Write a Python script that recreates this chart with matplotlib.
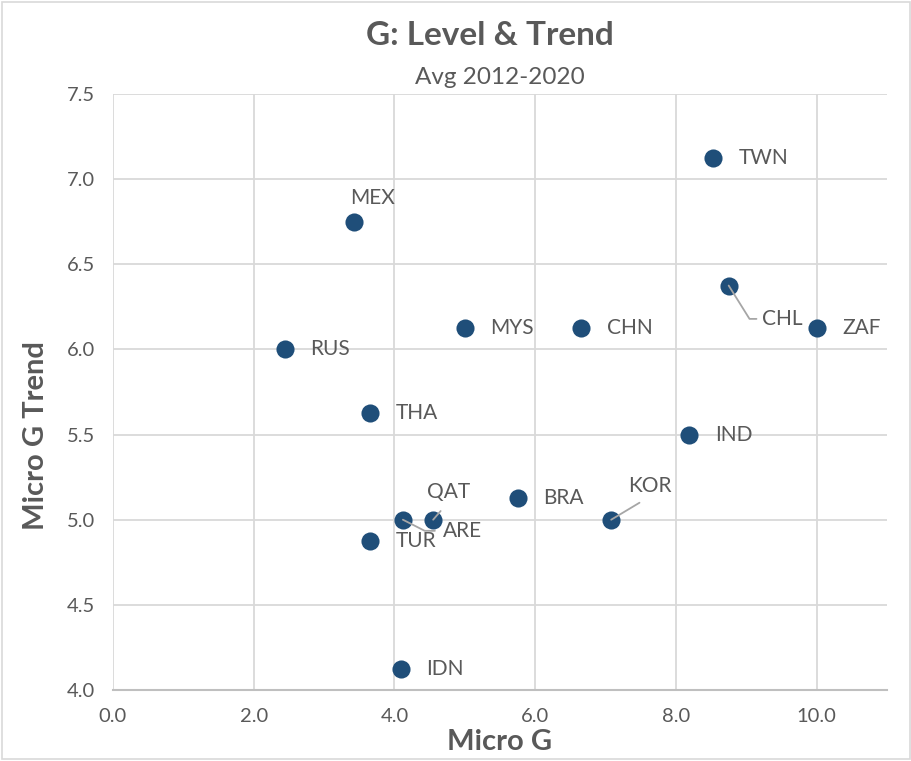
import matplotlib
matplotlib.use("Agg")
import matplotlib.pyplot as plt
from matplotlib.patches import Rectangle

plt.rcParams['font.family'] = ['Lato', 'DejaVu Sans']

# data
countries = ["TWN", "MEX", "CHL", "ZAF", "MYS", "CHN", "RUS", "THA",
             "IND", "BRA", "KOR", "QAT", "ARE", "TUR", "IDN"]
micro_g = [8.53, 3.43, 8.75, 10.0, 5.0, 6.65, 2.44, 3.65,
           8.19, 5.75, 7.08, 4.55, 4.12, 3.65, 4.09]
micro_g_trend = [7.125, 6.75, 6.375, 6.125, 6.125, 6.125, 6.0, 5.625,
                 5.5, 5.125, 5.0, 5.0, 5.0, 4.875, 4.125]

xticks = [0, 2, 4, 6, 8, 10]
yticks = [4.0, 4.5, 5.0, 5.5, 6.0, 6.5, 7.0, 7.5]

txt = '#595959'
dot = '#1f4e79'
lead = '#a6a6a6'

fig = plt.figure(figsize=(9.12, 7.61), dpi=100)
ax = fig.add_axes([0.1239, 0.0933, 0.8487, 0.7832])

ax.scatter(micro_g, micro_g_trend, s=170, color=dot, zorder=3, linewidths=0)

ax.set_xlim(0, 11)
ax.set_ylim(4.0, 7.5)
ax.set_xticks(xticks)
ax.set_yticks(yticks)
ax.set_xticklabels([f"{v:.1f}" for v in xticks])
ax.set_yticklabels([f"{v:.1f}" for v in yticks])
ax.tick_params(length=0, labelsize=14.5, labelcolor=txt, pad=13)
ax.grid(True, color='#d9d9d9', linewidth=1.3, zorder=0)
ax.set_axisbelow(True)
for s in ['top', 'right', 'left']:
    ax.spines[s].set_visible(False)
ax.spines['bottom'].set_color('#bfbfbf')
ax.spines['bottom'].set_linewidth(1.5)

# label placement (offset in points); special ones get leader lines
special = {
    "MEX": dict(xytext=(13, 17), ha='center'),
    "CHL": dict(xytext=(24, -24), ha='left',
                arrowprops=dict(arrowstyle='-', color=lead, lw=1.3, shrinkA=2, shrinkB=0,
                                relpos=(0, 0.5),
                                connectionstyle="angle,angleA=0,angleB=-58,rad=0")),
    "KOR": dict(xytext=(28, 24), ha='center',
                arrowprops=dict(arrowstyle='-', color=lead, lw=1.3, shrinkA=5, shrinkB=0,
                                relpos=(0.5, 0))),
    "QAT": dict(xytext=(11, 20), ha='center',
                arrowprops=dict(arrowstyle='-', color=lead, lw=1.3, shrinkA=6, shrinkB=0,
                                relpos=(0.5, 0))),
    "ARE": dict(xytext=(29, -8), ha='left',
                arrowprops=dict(arrowstyle='-', color=lead, lw=1.3, shrinkA=4, shrinkB=0,
                                relpos=(0, 0.5),
                                connectionstyle="angle,angleA=0,angleB=-27,rad=0")),
}
for name, x, y in zip(countries, micro_g, micro_g_trend):
    kw = special.get(name, dict(xytext=(18.5, 0), ha='left'))
    ax.annotate(name, (x, y), textcoords='offset points', va='center',
                fontsize=15, color=txt, zorder=4, annotation_clip=False, **kw)

fig.text(0.537, 0.953, "G: Level & Trend", ha='center', va='center',
         fontsize=24, fontweight='bold', color=txt)
fig.text(0.548, 0.898, "Avg 2012-2020", ha='center', va='center',
         fontsize=17.5, color=txt)
fig.text(0.548, 0.025, "Micro G", ha='center', va='center',
         fontsize=21, fontweight='bold', color=txt)
fig.text(0.040, 0.427, "Micro G Trend", ha='center', va='center', rotation=90,
         fontsize=21, fontweight='bold', color=txt)

fig.patches.append(Rectangle((0.002, 0.002), 0.996, 0.996, transform=fig.transFigure,
                             fill=False, edgecolor='#d9d9d9', linewidth=1.2))

fig.savefig("out.png", dpi=100)
